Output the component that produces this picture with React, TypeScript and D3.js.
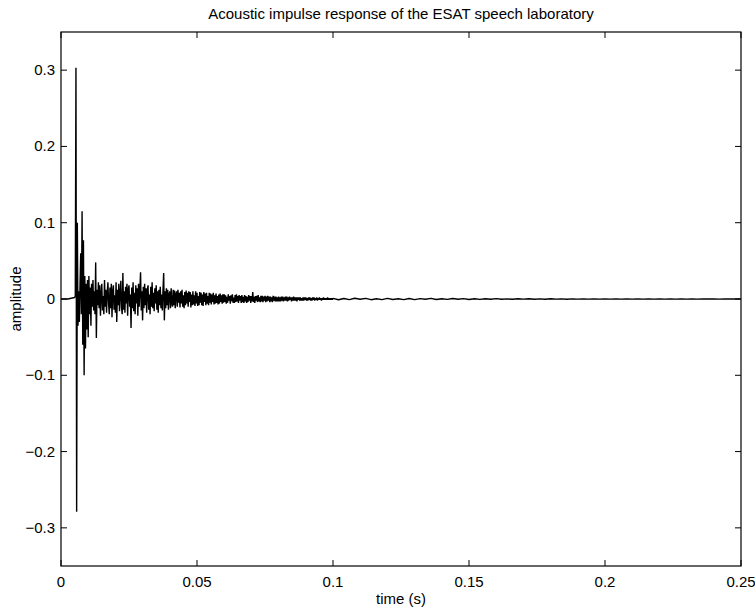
import React from "react";
import * as d3 from "d3";

const TITLE = "Acoustic impulse response of the ESAT speech laboratory";
const X_LABEL = "time (s)";
const Y_LABEL = "amplitude";
const X_TICKS = [0, 0.05, 0.1, 0.15, 0.2, 0.25];
const Y_TICKS = [-0.3, -0.2, -0.1, 0, 0.1, 0.2, 0.3];
const X_DOMAIN = [0, 0.25];
const Y_DOMAIN = [-0.35, 0.35];

// silence before the direct sound
const SILENCE_DT = 0.0025;
const silenceSamples = [0, 0];

// direct sound + early reflections, every 0.25 ms from t = 5 ms
const EARLY_START = 0.005;
const EARLY_DT = 0.00025;
const earlySamples = [
  0.002, 0.004, 0.303, -0.279, 0.1, -0.035, 0.01, -0.03, 0.02, 0.06,
  -0.02, 0.115, -0.06, 0.077, -0.1, 0.03, -0.065, 0.02, -0.04, 0.025,
  -0.05, 0.03, -0.02, 0.015, -0.035, 0.02, -0.01, 0.025, -0.015, 0.01,
  -0.02, 0.048, -0.051, 0.012, -0.008, 0.022,
  -0.012, 0.018, -0.022, 0.006, 0.02, -0.015, 0.004, -0.02, 0.025, -0.01,
  0.012, -0.018, 0.008, 0.022, -0.006, -0.02, 0.015, -0.012, 0.02, -0.024,
  0.01, 0.018, -0.014, 0.005, -0.018, 0.022, -0.03, 0.012, -0.008, 0.02,
  -0.016, 0.008, 0.024, -0.012, -0.02, 0.034, -0.014, 0.01, -0.018, 0.016,
  -0.006, 0.02, -0.022, 0.012, 0.018, -0.01, 0.006, -0.038, 0.015, -0.012,
  0.022, -0.016, 0.008, -0.02, 0.018, -0.006, 0.014, -0.022, 0.02, -0.01,
  0.012, 0.035, -0.015, 0.01, -0.028, 0.016, -0.012, 0.02, -0.008, 0.014,
  -0.018, 0.012, 0.018, -0.014, 0.006, -0.02, 0.016, -0.01, 0.022, -0.012,
  0.008, -0.016, 0.014, -0.006, 0.018, -0.014, 0.01, -0.018, 0.012, -0.008,
  0.016, -0.012, 0.006, -0.015, 0.012, 0.034, -0.028, 0.01, -0.012, 0.014,
  -0.008, 0.012, -0.014, 0.006, 0.01, -0.012, 0.014, -0.006, -0.01, 0.012,
  -0.008, 0.011, -0.012, 0.006, 0.01, -0.01, 0.012, -0.005, 0.008, -0.011,
  0.01, -0.006, 0.012, -0.01, 0.005, -0.012, 0.009, -0.008, 0.011, -0.006,
  0.008, -0.01, 0.01, -0.004, 0.009, -0.011, 0.006, -0.008, 0.01, -0.007,
  0.005, -0.009, 0.01, -0.006, 0.008, -0.009, 0.004, -0.008, 0.009, -0.005,
  0.008, -0.008, 0.006, -0.009, 0.009, -0.004, 0.007, -0.008, 0.008, -0.006,
  0.004, -0.008, 0.008, -0.005, 0.007, -0.007, 0.006, -0.004, 0.008, -0.007,
  0.005, -0.006, 0.007, -0.005, 0.004, -0.007, 0.006, -0.006, 0.007, -0.004,
  0.005, -0.006, 0.006, -0.005,
];

// decaying reverberation, every 0.25 ms from t = 60 ms
const MID_START = 0.06;
const MID_DT = 0.00025;
const midSamples = [
  0.006, -0.004, 0.005, -0.006, 0.003, -0.005, 0.006, -0.002, 0.004, -0.006,
  0.005, -0.003, 0.006, -0.005, 0.002, -0.005, 0.005, -0.004, 0.006, -0.003,
  0.004, -0.005, 0.005, -0.002, 0.004, -0.005, 0.005, -0.004, 0.003, -0.005,
  0.005, -0.003, 0.004, -0.005, 0.003, -0.004, 0.005, -0.002, 0.004, -0.005,
  0.004, -0.003, 0.009, -0.004, 0.003, -0.005, 0.004, -0.002, 0.004, -0.004,
  0.005, -0.003, 0.002, -0.004, 0.004, -0.003, 0.004, -0.004, 0.003, -0.002,
  0.004, -0.004, 0.003, -0.003, 0.004, -0.002, 0.003, -0.004, 0.003, -0.003,
  0.002, -0.004, 0.004, -0.002, 0.003, -0.003, 0.003, -0.003, 0.002, -0.003,
  0.003, -0.003, 0.002, -0.003, 0.003, -0.002, 0.003, -0.003, 0.002, -0.002,
  0.003, -0.002, 0.003, -0.003, 0.002, -0.002, 0.003, -0.001, 0.002, -0.003,
  0.002, -0.002, 0.003, -0.002, 0.002, -0.002, 0.002, -0.003, 0.002, -0.001,
  0.002, -0.002, 0.002, -0.002, 0.001, -0.002, 0.002, -0.002, 0.002, -0.001,
  0.002, -0.002, 0.001, -0.002, 0.002, -0.001, 0.002, -0.002, 0.001, -0.002,
  0.002, -0.001, 0.002, -0.002, 0.001, -0.001, 0.002, -0.002, 0.001, -0.001,
  0.002, -0.001, 0.001, -0.002, 0.001, -0.001, 0.002, -0.001, 0.001, -0.001,
  0.001, -0.001, 0.002, -0.001, 0.001, -0.001, 0.001, -0.001, 0.001, -0.001,
];

// late tail, every 2 ms from t = 100 ms
const LATE_START = 0.1;
const LATE_DT = 0.002;
const lateSamples = [
  0.0008, -0.001, 0.0006, -0.0008, 0.001, -0.0004, 0.0008, -0.0009, 0.0004, -0.0008,
  0.0009, -0.0006, 0.0004, -0.0008, 0.0006, -0.0009, 0.0005, -0.0004, 0.0008, -0.0006,
  0.0004, -0.0005, 0.0006, -0.0003, 0.0005, -0.0006, 0.0003, -0.0005, 0.0004, -0.0003,
  0.0005, -0.0004, 0.0002, -0.0004, 0.0003, -0.0002, 0.0004, -0.0003, 0.0002, -0.0003,
  0.0003, -0.0002, 0.0002, -0.0003, 0.0002, -0.0002, 0.0002, -0.0002, 0.0002, -0.0002,
  0.0002, -0.0002, 0.0002, -0.0001, 0.0002, -0.0001, 0.0001, -0.0002, 0.0001, -0.0001,
  0.0001, -0.0001, 0.0001, -0.0001, 0.0001, -0.0001, 0.0001, -0.0001, 0.0001, 0,
  0.0001, -0.0001, 0, 0.0001, 0, 0,
];

const W = 755;
const H = 610;
const M = { left: 61, right: 14, top: 32, bottom: 44 };
const FONT = "'Liberation Sans', Arial, Helvetica, sans-serif";
const FS = 15;

type P = [number, number];
const seg = (arr: number[], start: number, dt: number): P[] =>
  arr.map((v, i) => [start + i * dt, v] as P);

export default function App() {
  const x = d3.scaleLinear().domain(X_DOMAIN).range([M.left, W - M.right]);
  const y = d3.scaleLinear().domain(Y_DOMAIN).range([H - M.bottom, M.top]);

  const points: P[] = [
    ...seg(silenceSamples, 0, SILENCE_DT),
    ...seg(earlySamples, EARLY_START, EARLY_DT),
    ...seg(midSamples, MID_START, MID_DT),
    ...seg(lateSamples, LATE_START, LATE_DT),
  ];
  const line = d3
    .line<P>()
    .x((d) => x(d[0]))
    .y((d) => y(d[1]));

  const x0 = x(X_DOMAIN[0]);
  const x1 = x(X_DOMAIN[1]);
  const y0 = y(Y_DOMAIN[0]);
  const y1 = y(Y_DOMAIN[1]);
  const tl = 6;

  return (
    <svg
      width={W}
      height={H}
      style={{ position: "absolute", left: 0, top: 0, background: "#fff" }}
      fontFamily={FONT}
    >
      <rect x={0} y={0} width={W} height={H} fill="#fff" />
      <path d={line(points) || ""} fill="none" stroke="#000" strokeWidth={1.4} strokeLinejoin="bevel" />
      <rect x={x0} y={y1} width={x1 - x0} height={y0 - y1} fill="none" stroke="#000" strokeWidth={1.2} />
      {X_TICKS.map((t) => (
        <g key={"xt" + t}>
          <line x1={x(t)} x2={x(t)} y1={y0} y2={y0 - tl} stroke="#000" />
          <line x1={x(t)} x2={x(t)} y1={y1} y2={y1 + tl} stroke="#000" />
          <text x={x(t)} y={y0 + 21} textAnchor="middle" fontSize={FS}>
            {String(t)}
          </text>
        </g>
      ))}
      {Y_TICKS.map((t) => (
        <g key={"yt" + t}>
          <line x1={x0} x2={x0 + tl} y1={y(t)} y2={y(t)} stroke="#000" />
          <line x1={x1} x2={x1 - tl} y1={y(t)} y2={y(t)} stroke="#000" />
          <text x={x0 - 6} y={y(t) + 5} textAnchor="end" fontSize={FS}>
            {t < 0 ? "\u2212" + String(-t) : String(t)}
          </text>
        </g>
      ))}
      <text x={(x0 + x1) / 2} y={19} textAnchor="middle" fontSize={FS}>
        {TITLE}
      </text>
      <text x={(x0 + x1) / 2} y={604} textAnchor="middle" fontSize={FS}>
        {X_LABEL}
      </text>
      <text
        transform={`translate(21,${(y0 + y1) / 2}) rotate(-90)`}
        textAnchor="middle"
        fontSize={FS}
      >
        {Y_LABEL}
      </text>
    </svg>
  );
}
